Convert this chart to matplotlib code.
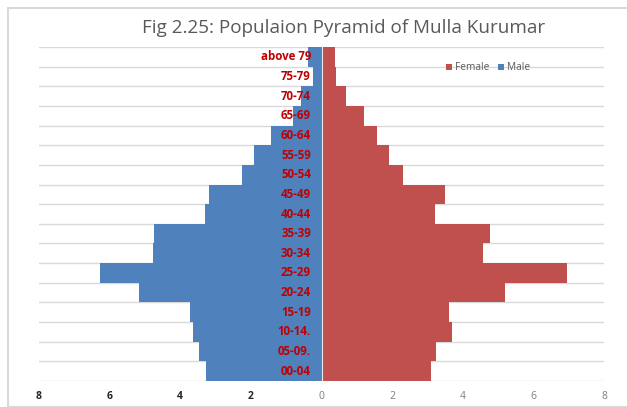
import numpy as np
import matplotlib.pyplot as plt
from matplotlib.patches import Rectangle

# age groups, bottom to top
groups = ["00-04", "05-09.", "10-14.", "15-19", "20-24", "25-29", "30-34", "35-39",
          "40-44", "45-49", "50-54", "55-59", "60-64", "65-69", "70-74", "75-79", "above 79"]
male = [3.26, 3.46, 3.65, 3.71, 5.18, 6.26, 4.76, 4.73,
        3.31, 3.2, 2.24, 1.9, 1.42, 0.8, 0.58, 0.25, 0.37]
female = [3.09, 3.23, 3.7, 3.6, 5.2, 6.94, 4.56, 4.78,
          3.2, 3.5, 2.3, 1.9, 1.56, 1.19, 0.68, 0.4, 0.37]
xticks = [-8, -6, -4, -2, 0, 2, 4, 6, 8]

plt.rcParams['font.family'] = ['Open Sans', 'DejaVu Sans']

fig = plt.figure(figsize=(6.27, 4.07), dpi=100)
fig.patches.append(Rectangle((8/627, 0), 1, 1 - 8/407, transform=fig.transFigure,
                             fill=False, edgecolor='#d9d9d9', lw=1.5))
ax = fig.add_axes([39/627, 26/407, 565/627, 334/407])

y = np.arange(len(groups))
ax.barh(y, -np.array(male), height=1.0, color='#4f81bd', label='Male', linewidth=0)
ax.barh(y, female, height=1.0, color='#c0504d', label='Female', linewidth=0)
ax.axvline(0, color='#e8e8e8', lw=0.8)

for yi in np.arange(-0.5, len(groups), 1.0):
    ax.axhline(yi, color='#d9d9d9', lw=1, zorder=0)

for yi, g in zip(y, groups):
    ax.text(-0.3, yi, g, ha='right', va='center', color='#c00000',
            fontsize=8.3, fontweight='bold')

ax.set_xlim(-8, 8)
ax.set_ylim(-0.5, len(groups) - 0.5)
ax.set_yticks([])
ax.set_xticks(xticks)
ax.set_xticklabels([str(abs(v)) for v in xticks], fontsize=7.5)
for lab, v in zip(ax.get_xticklabels(), xticks):
    if v < 0:
        lab.set_color('#262626')
        lab.set_fontweight('bold')
    else:
        lab.set_color('#7f7f7f')
ax.tick_params(axis='x', length=0, pad=7)
for s in ax.spines.values():
    s.set_visible(False)

h, l = ax.get_legend_handles_labels()
leg = ax.legend(h[::-1], l[::-1], loc='center', bbox_to_anchor=(449/565, 1 - 21/334),
                ncol=2, frameon=False, fontsize=7.3, handlelength=0.6, handleheight=0.6,
                columnspacing=0.9, handletextpad=0.25)
for t in leg.get_texts():
    t.set_color('#595959')

fig.text(344/627, 1 - 28/407, "Fig 2.25: Populaion Pyramid of Mulla Kurumar",
         ha='center', va='center', fontsize=13.6, color='#595959')

fig.savefig("out.png", dpi=100)
